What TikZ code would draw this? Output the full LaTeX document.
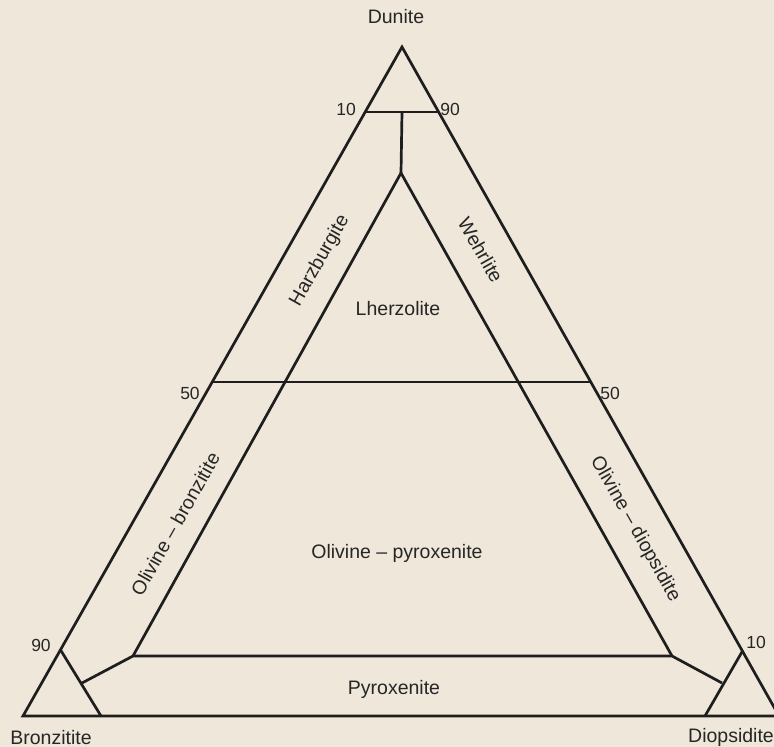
\documentclass[tikz,border=0pt]{standalone}
\usepackage{fontspec}
\setmainfont{Liberation Sans}
\definecolor{paper}{RGB}{238,231,218}
\definecolor{inkc}{RGB}{30,30,30}
\definecolor{txtc}{RGB}{38,38,38}
\begin{document}
\begin{tikzpicture}[x=1pt,y=-1pt,
  ink/.style={line width=2.7pt, draw=inkc, line join=miter},
  lbl/.style={text=txtc, font=\fontsize{19.5}{22}\selectfont, inner sep=0pt},
  num/.style={lbl, font=\fontsize{17.5}{20}\selectfont}]
\useasboundingbox (0,0) rectangle (774,747);
\fill[paper] (0,0) rectangle (774,747);
\begin{scope}
\clip (0,0) rectangle (774,747);
% corner points
\coordinate (A) at (402,47);
\coordinate (L) at (23,716);
\coordinate (R) at (779,716);
\coordinate (T1) at (365,112);
\coordinate (T2) at (438.5,112);
\coordinate (V) at (402,112);
\coordinate (I) at (401,173);
\coordinate (F1) at (213,382);
\coordinate (F2) at (591,382);
\coordinate (P1) at (133,656);
\coordinate (P2) at (672,656);
\coordinate (B1) at (60,649);
\coordinate (B2) at (101,716);
\coordinate (Q1) at (82,683);
\coordinate (C1) at (742.5,651);
\coordinate (C2) at (705,716);
\coordinate (Q2) at (722,683);
% lines
\draw[ink] (A) -- (L) -- (R) -- cycle;
\draw[ink] (T1) -- (T2);
\draw[ink] (V) -- (I);
\draw[ink] (P1) -- (I) -- (P2);
\draw[ink] (F1) -- (F2);
\draw[ink] (Q1) -- (P1) -- (P2) -- (Q2);
\draw[ink] (B1) -- (B2);
\draw[ink] (C1) -- (C2);
% labels
\node[lbl, anchor=base] (dun) at (396,23) {Dunite};
\node[lbl, anchor=base] (lhz) at (398,315) {Lherzolite};
\node[lbl, anchor=base] (olpx) at (397,558) {Olivine – pyroxenite};
\node[lbl, anchor=base] (pyx) at (394,694) {Pyroxenite};
\node[lbl, anchor=base] (brz) at (51,744) {Bronzitite};
\node[lbl, anchor=base west] (dio) at (688,742) {Diopsidite};
\node[lbl, anchor=mid, rotate=60.5] (harz) at (322,262) {Harzburgite};
\node[lbl, anchor=mid, rotate=-60.5] (wehr) at (477,252) {Wehrlite};
\node[lbl, anchor=mid, rotate=60.5] (olbr) at (179,526) {Olivine – bronzitite};
\node[lbl, anchor=mid, rotate=-60.5] (oldi) at (633,530) {Olivine – diopsidite};
% numbers
\node[num, anchor=base] (n10a) at (346,115) {10};
\node[num, anchor=base] (n90a) at (450,115) {90};
\node[num, anchor=base] (n50a) at (190,399) {50};
\node[num, anchor=base] (n50b) at (610,399) {50};
\node[num, anchor=base] (n90b) at (41,651) {90};
\node[num, anchor=base] (n10b) at (756,648) {10};
\end{scope}
\end{tikzpicture}
\end{document}
